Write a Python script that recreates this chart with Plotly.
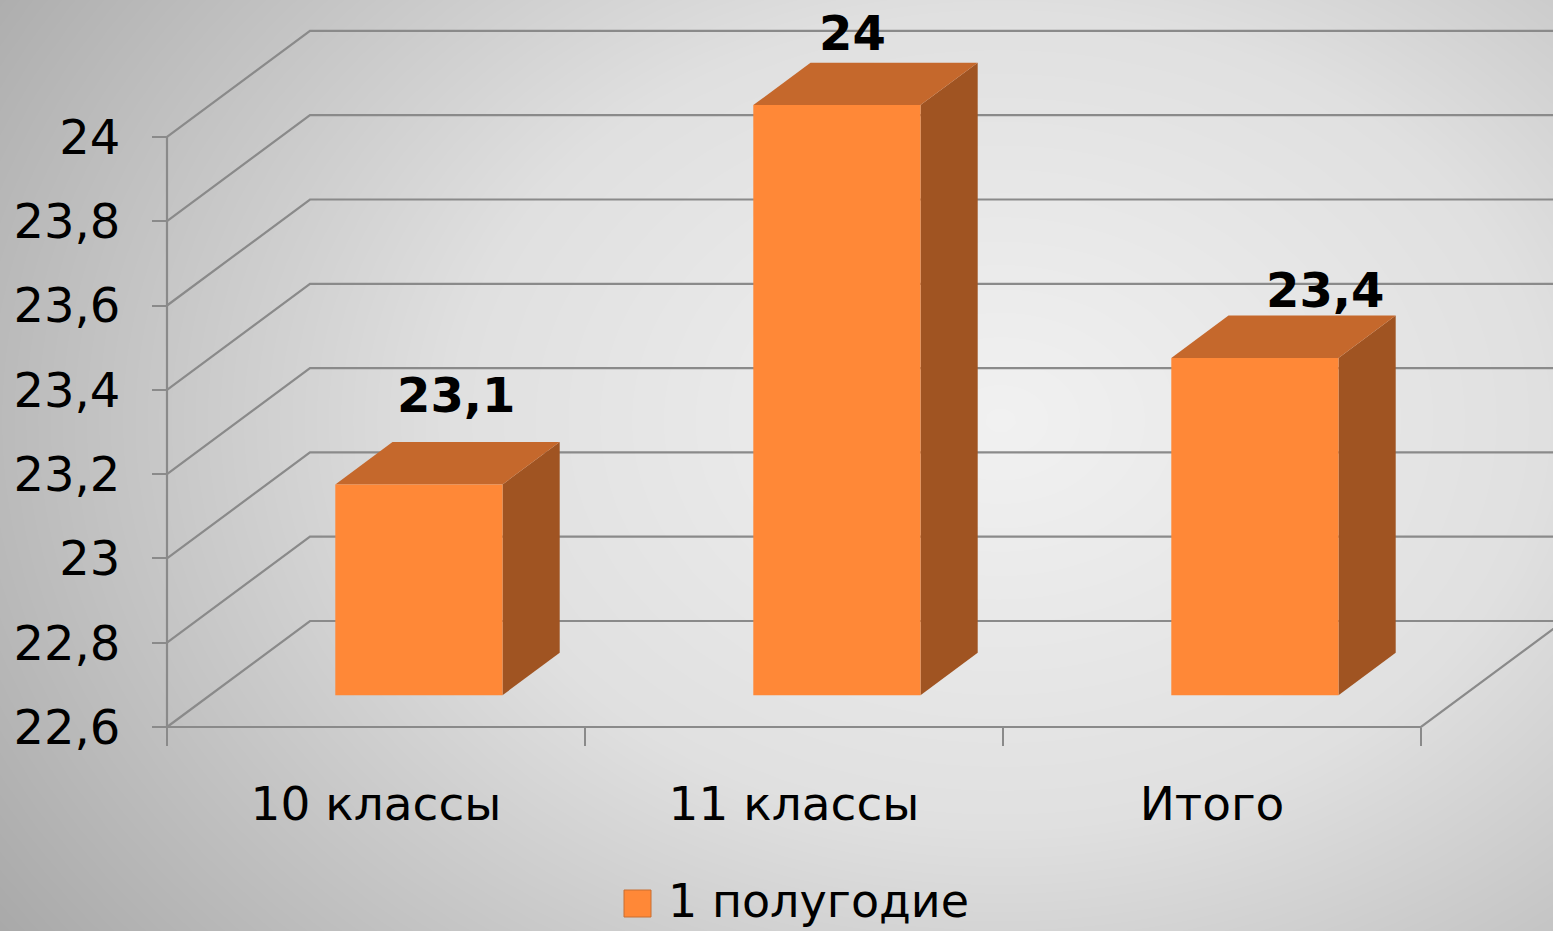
import numpy as np
import plotly.graph_objects as go

# ---------------- data ----------------
categories = ["10 классы", "11 классы", "Итого"]
values = [23.1, 24.0, 23.4]
series_name = "1 полугодие"
y_ticks = [22.6, 22.8, 23.0, 23.2, 23.4, 23.6, 23.8, 24.0]
y_ticklabels = ["22,6", "22,8", "23", "23,2", "23,4", "23,6", "23,8", "24"]

# ---------------- geometry / style ----------------
W, H = 1553, 931
Y0 = y_ticks[0]
PX_X = 418.0          # pixels per category
PX_Y = 421.5          # pixels per value unit
ORIGIN_X, ORIGIN_Y = 167, 727
DX = 143 / PX_X       # depth offset (x, category units)
DY = 106 / PX_Y       # depth offset (y, value units)
XR = [-ORIGIN_X / PX_X, (W - ORIGIN_X) / PX_X]
YR = [Y0 - (H - ORIGIN_Y) / PX_Y, Y0 + ORIGIN_Y / PX_Y]
NCAT = len(categories)
D_FRONT, D_BACK, HALF_W = 0.3, 0.7, 0.2
LINE_COLOR = "rgb(138,138,138)"
FRONT_C = "rgb(255,136,55)"
TOP_C = "rgb(197,104,44)"
SIDE_C = "rgb(160,84,34)"
FONT = "DejaVu Sans"
LABEL_NUDGE = [(8, 68), (-13, 51), (41, 47)]

fig = go.Figure()

# background radial gradient
xs = np.linspace(XR[0], XR[1], 160)
ys = np.linspace(YR[0], YR[1], 100)
PXg, PYg = np.meshgrid(ORIGIN_X + PX_X * xs, ORIGIN_Y - PX_Y * (ys - Y0))
r = np.sqrt(((PXg - 1000) / 1100) ** 2 + ((PYg - 420) / 820) ** 2)
fig.add_trace(go.Heatmap(
    x=xs, y=ys, z=r, zmin=0, zmax=1.1, zsmooth="best", showscale=False,
    colorscale=[[0, "#f1f1f1"], [0.45, "#e0e0e0"], [1, "#a9a9a9"]],
    hoverinfo="skip"))

# walls / floor lines
gx, gy = [], []
for v in y_ticks:
    gx += [0, DX, NCAT + DX, None]
    gy += [v, v + DY, v + DY, None]
gx += [0, NCAT, NCAT + DX, None, 0, 0, None]
gy += [Y0, Y0, Y0 + DY, None, Y0, y_ticks[-1], None]
fig.add_trace(go.Scatter(x=gx, y=gy, mode="lines",
                         line=dict(color=LINE_COLOR, width=2.2),
                         hoverinfo="skip", showlegend=False))

# 3D bars
for i, v in enumerate(values):
    c = i + 0.5
    xl0, xr0 = c - HALF_W + D_FRONT * DX, c + HALF_W + D_FRONT * DX
    xl1, xr1 = c - HALF_W + D_BACK * DX, c + HALF_W + D_BACK * DX
    b0, b1 = Y0 + D_FRONT * DY, Y0 + D_BACK * DY
    t0, t1 = v + D_FRONT * DY, v + D_BACK * DY
    faces = [
        ([xr0, xr1, xr1, xr0, xr0], [b0, b1, t1, t0, b0], SIDE_C),
        ([xl0, xr0, xr1, xl1, xl0], [t0, t0, t1, t1, t0], TOP_C),
        ([xl0, xr0, xr0, xl0, xl0], [b0, b0, t0, t0, b0], FRONT_C),
    ]
    for fx, fy, col in faces:
        fig.add_trace(go.Scatter(x=fx, y=fy, mode="lines", fill="toself",
                                 fillcolor=col, line=dict(width=0, color=col),
                                 hoverinfo="skip", showlegend=False,
                                 name=series_name))
    txt = f"{v:g}".replace(".", ",")
    fig.add_annotation(x=c + 0.5 * DX, y=v + 0.5 * DY, text=f"<b>{txt}</b>",
                       showarrow=False, xshift=LABEL_NUDGE[i][0],
                       yshift=LABEL_NUDGE[i][1],
                       font=dict(family=FONT, size=48, color="black"))

# legend (manual)
fig.add_shape(type="rect", xref="paper", yref="paper",
              x0=624 / W, x1=651 / W, y0=(H - 917) / H, y1=(H - 890) / H,
              fillcolor=FRONT_C, line=dict(color="rgb(200,110,50)", width=1))
fig.add_annotation(xref="paper", yref="paper", x=666 / W, y=(H - 901) / H,
                   xanchor="left", yanchor="middle", showarrow=False,
                   text=series_name, font=dict(family=FONT, size=46, color="black"))

fig.update_layout(
    width=W, height=H, margin=dict(l=0, r=0, t=0, b=0),
    paper_bgcolor="#d8d8d8", plot_bgcolor="rgba(0,0,0,0)",
    showlegend=False,
    xaxis=dict(range=XR, showgrid=False, zeroline=False, showline=False,
               tickmode="array", tickvals=[i + 0.5 for i in range(NCAT)],
               ticktext=categories, ticks="", anchor="free",
               position=(H - ORIGIN_Y) / H, ticklabelstandoff=45,
               tickfont=dict(family=FONT, size=47, color="black"),
               minor=dict(tickmode="array", tickvals=list(range(NCAT + 1)),
                          ticks="outside", ticklen=18, tickwidth=2,
                          tickcolor=LINE_COLOR, showgrid=False),
               fixedrange=True),
    yaxis=dict(range=YR, showgrid=False, zeroline=False, showline=False,
               tickmode="array", tickvals=y_ticks, ticktext=y_ticklabels,
               ticks="outside", ticklen=15, tickwidth=2, tickcolor=LINE_COLOR,
               anchor="free", position=ORIGIN_X / W, ticklabelstandoff=22,
               tickfont=dict(family=FONT, size=48, color="black"),
               fixedrange=True),
)

fig.write_html("out.html", config={"displayModeBar": False},
               post_script="document.body.style.margin='0';document.body.style.overflow='hidden';")
